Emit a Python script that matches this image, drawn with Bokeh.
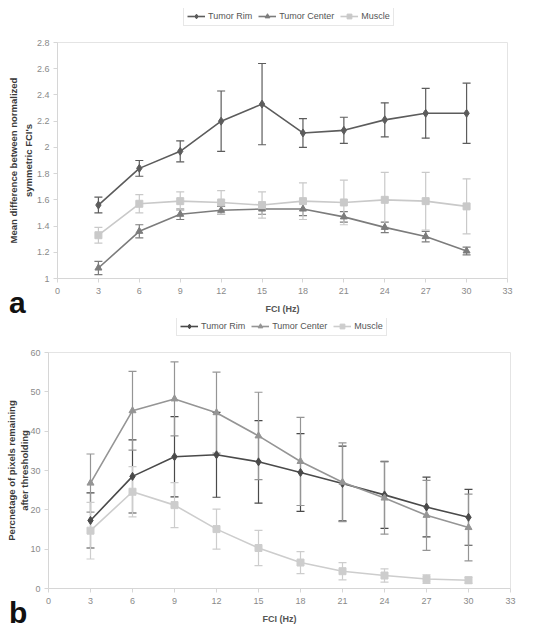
from bokeh.plotting import figure
from bokeh.models import (ColumnDataSource, Whisker, TeeHead, Legend, LegendItem,
                          FixedTicker, Range1d, Title, Div)
from bokeh.layouts import column
from bokeh.embed import file_html
from bokeh.resources import INLINE

fci = [3, 6, 9, 12, 15, 18, 21, 24, 27, 30]
series_names = ["Tumor Rim", "Tumor Center", "Muscle"]

a_rim = [1.56, 1.84, 1.97, 2.20, 2.33, 2.11, 2.13, 2.21, 2.26, 2.26]
a_rim_err = [0.06, 0.06, 0.08, 0.23, 0.31, 0.11, 0.10, 0.13, 0.19, 0.23]
a_center = [1.08, 1.36, 1.49, 1.52, 1.53, 1.53, 1.47, 1.39, 1.32, 1.21]
a_center_err = [0.05, 0.05, 0.04, 0.03, 0.04, 0.05, 0.04, 0.04, 0.04, 0.03]
a_muscle = [1.33, 1.57, 1.59, 1.58, 1.56, 1.59, 1.58, 1.60, 1.59, 1.55]
a_muscle_err = [0.06, 0.07, 0.07, 0.09, 0.10, 0.14, 0.17, 0.21, 0.22, 0.21]

b_rim = [17.3, 28.5, 33.5, 34.0, 32.2, 29.5, 26.7, 23.8, 20.7, 18.1]
b_rim_err = [7.0, 9.3, 10.2, 10.8, 10.5, 9.9, 9.5, 8.5, 7.6, 7.1]
b_center = [26.8, 45.2, 48.2, 44.7, 38.8, 32.3, 27.0, 23.0, 18.6, 15.5]
b_center_err = [7.4, 10.0, 9.4, 10.3, 11.1, 11.2, 10.0, 9.2, 8.9, 8.5]
b_muscle = [14.7, 24.6, 21.2, 15.1, 10.3, 6.6, 4.4, 3.3, 2.4, 2.1]
b_muscle_err = [7.2, 6.4, 5.7, 5.1, 4.5, 2.8, 2.2, 1.7, 1.1, 0.8]

x_ticks = [0, 3, 6, 9, 12, 15, 18, 21, 24, 27, 30, 33]
a_y_ticks = [1, 1.2, 1.4, 1.6, 1.8, 2, 2.2, 2.4, 2.6, 2.8]
a_y_labels = ["1", "1.2", "1.4", "1.6", "1.8", "2", "2.2", "2.4", "2.6", "2.8"]
b_y_ticks = [0, 10, 20, 30, 40, 50, 60]
b_y_labels = ["0", "10", "20", "30", "40", "50", "60"]

a_ytitle = ["Mean difference between normalized", "symmetric FCI's"]
b_ytitle = ["Percnetage of pixels remaining", "after thresholding"]
x_title = "FCI (Hz)"

FONT = "Liberation Sans"
markers = ["diamond", "triangle", "square"]
A_COLORS = ["#5c5c5c", "#7c7c7c", "#c9c9c9"]
B_COLORS = ["#4a4a4a", "#959595", "#cdcdcd"]


def series_source(v, e):
    return ColumnDataSource(dict(x=fci, y=v,
                                 upper=[a + b for a, b in zip(v, e)],
                                 lower=[a - b for a, b in zip(v, e)]))


def add_series(p, src, c, m):
    p.add_layout(Whisker(source=src, base="x", upper="upper", lower="lower",
                         line_color=c, line_width=1.2,
                         upper_head=TeeHead(size=8, line_color=c, line_width=1.2),
                         lower_head=TeeHead(size=8, line_color=c, line_width=1.2)))
    p.line("x", "y", source=src, line_color=c, line_width=1.6)
    p.scatter("x", "y", source=src, marker=m, size=7 if m != "diamond" else 8,
              fill_color=c, line_color=c)


def make_legend_fig(values, errs, colors, width, left, right, loc_x, margin):
    # a strip that only shows the legend; its ranges keep the series out of view
    lf = figure(width=width, height=18, output_backend="svg", toolbar_location=None,
                x_range=Range1d(-100, -99), y_range=Range1d(-100, -99),
                x_axis_location=None, y_axis_location=None,
                min_border_left=left, min_border_right=right,
                min_border_top=0, min_border_bottom=0)
    lf.margin = margin
    lf.grid.visible = False
    lf.outline_line_color = None
    items = []
    for name, v, e, c, m in zip(series_names, values, errs, colors, markers):
        src = series_source(v, e)
        ln = lf.line("x", "y", source=src, line_color=c, line_width=1.6)
        sc = lf.scatter("x", "y", source=src, marker=m,
                        size=6 if m != "diamond" else 7, fill_color=c, line_color=c)
        items.append(LegendItem(label=name, renderers=[ln, sc], index=0))
    leg = Legend(items=items, orientation="horizontal", location=(loc_x, 0),
                 label_text_font=FONT, label_text_font_size="9px",
                 label_text_color="#555555", glyph_width=18, glyph_height=12,
                 label_height=12, label_standoff=3, spacing=6, padding=3,
                 margin=0, border_line_color="#d0d0d0", background_fill_alpha=1)
    lf.add_layout(leg, "center")
    return lf


def make_panel(values, errs, colors, y_range, y_ticks, y_labels, width, height,
               border, ytitle, label_standoff, title_standoff, title_offset,
               margin=None):
    left, right, top, bottom = border
    p = figure(width=width, height=height, output_backend="svg",
               toolbar_location=None, x_range=Range1d(0, 33), y_range=Range1d(*y_range),
               min_border_left=left, min_border_right=right,
               min_border_top=top, min_border_bottom=bottom)
    if margin is not None:
        p.margin = margin
    p.xgrid.visible = False
    p.ygrid.visible = False
    p.outline_line_color = "#e4e4e4"
    for ax in (p.xaxis[0], p.yaxis[0]):
        ax.axis_line_color = "#d6d6d6"
        ax.major_tick_line_color = "#d6d6d6"
        ax.minor_tick_line_color = None
        ax.major_tick_out = 4
        ax.major_tick_in = 0
        ax.major_label_text_font = FONT
        ax.major_label_text_font_size = "9px"
        ax.major_label_text_color = "#8a8a8a"
        ax.axis_label_text_font = FONT
        ax.axis_label_text_font_style = "bold"
    p.xaxis.ticker = FixedTicker(ticks=x_ticks)
    p.xaxis.major_label_standoff = 5
    p.xaxis.axis_label = x_title
    p.xaxis.axis_label_text_font_size = "9px"
    p.xaxis.axis_label_text_color = "#555555"
    p.xaxis.axis_label_standoff = 7
    p.yaxis.ticker = FixedTicker(ticks=y_ticks)
    p.yaxis.major_label_overrides = {t: l for t, l in zip(y_ticks, y_labels)}
    p.yaxis.major_label_standoff = 4
    # second line of the y title is the axis label, first line a side title
    p.yaxis.axis_label = ytitle[1]
    p.yaxis.axis_label_text_font_size = "9.5px"
    p.yaxis.axis_label_text_color = "#3a3a3a"
    p.yaxis.axis_label_standoff = label_standoff
    p.add_layout(Title(text=ytitle[0], align="center", offset=title_offset,
                       standoff=title_standoff, text_font=FONT, text_font_size="9.5px",
                       text_font_style="bold", text_color="#3a3a3a"), "left")

    for v, e, c, m in zip(values, errs, colors, markers):
        add_series(p, series_source(v, e), c, m)
    return p


def letter_div(letter, shift):
    return Div(text=letter, width=30, height=shift, margin=(-shift, 0, 0, 9),
               styles={"font-family": FONT, "font-size": "30px", "font-weight": "bold",
                       "line-height": "30px", "color": "#111111"})


la = make_legend_fig([a_rim, a_center, a_muscle], [a_rim_err, a_center_err, a_muscle_err],
                     A_COLORS, 535, 57, 28, 126, (8, 0, 0, 0))
pa = make_panel([a_rim, a_center, a_muscle], [a_rim_err, a_center_err, a_muscle_err],
                A_COLORS, (1, 2.8), a_y_ticks, a_y_labels,
                535, 290, (57, 28, 16, 38), a_ytitle, 0, 1, 0)
da = letter_div("a", 28)

lb = make_legend_fig([b_rim, b_center, b_muscle], [b_rim_err, b_center_err, b_muscle_err],
                     B_COLORS, 547, 57, 19, 128, (2, 0, 0, -9))
pb = make_panel([b_rim, b_center, b_muscle], [b_rim_err, b_center_err, b_muscle_err],
                B_COLORS, (0, 60), b_y_ticks, b_y_labels,
                547, 292, (57, 19, 16, 40), b_ytitle, -3, 0, 2,
                margin=(0, 0, 0, -9))
db = letter_div("b", 30)

layout = column(column(la, pa, da, spacing=0), column(lb, pb, db, spacing=0), spacing=0)
open("out.html", "w").write(file_html(layout, INLINE))
